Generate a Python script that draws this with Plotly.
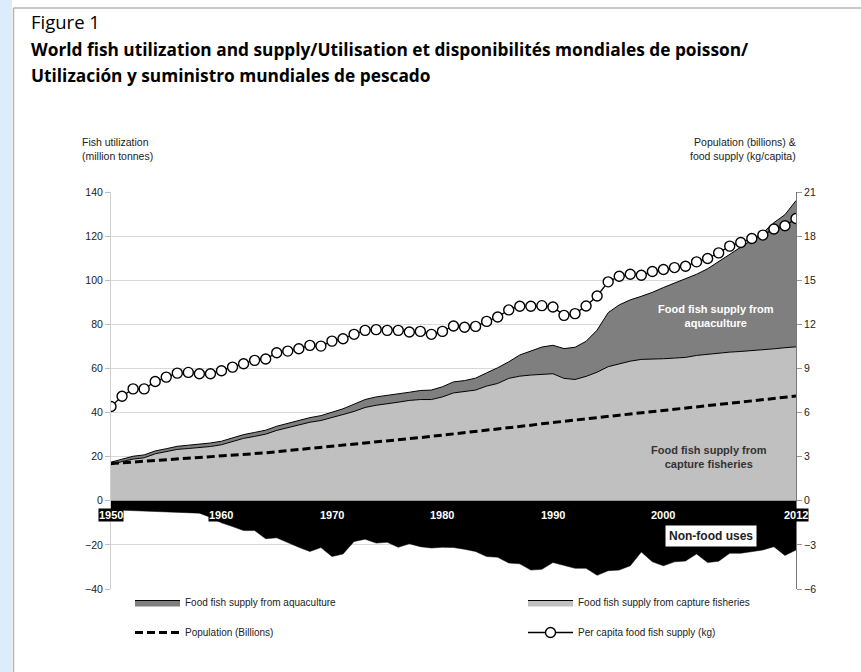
import plotly.graph_objects as go

# ---------------- data ----------------
years = list(range(1950, 2013))

capture = [16.3, 17.8, 18.9, 19.5, 21.3, 22.2, 23.3, 23.7, 24.1, 24.6,
           25.4, 26.8, 28.3, 29.2, 30.2, 31.9, 33.2, 34.4, 35.6, 36.4,
           37.9, 39.1, 40.5, 42.3, 43.3, 43.9, 44.7, 45.5, 45.9, 45.9,
           47.1, 48.9, 49.4, 50.2, 52.0, 53.2, 55.5, 56.5, 57.0, 57.3,
           57.6, 55.5, 55.0, 56.4, 58.3, 60.8, 62.1, 63.3, 64.1, 64.1,
           64.4, 64.7, 65.0, 65.9, 66.4, 67.1, 67.4, 67.7, 68.0, 68.6,
           68.9, 69.4, 69.8]

aquaculture = [1.2, 1.2, 1.3, 1.3, 1.3, 1.4, 1.4, 1.5, 1.5, 1.6,
               1.6, 1.7, 1.7, 1.8, 1.8, 1.9, 2.0, 2.0, 2.1, 2.2,
               2.3, 2.6, 3.3, 3.6, 3.8, 3.8, 3.8, 3.7, 4.1, 4.3,
               4.6, 5.0, 5.1, 5.4, 6.0, 7.1, 7.5, 9.6, 10.9, 12.4,
               12.9, 13.5, 14.6, 15.9, 19.1, 24.5, 26.7, 27.8, 28.6, 30.4,
               32.3, 34.1, 35.9, 36.8, 38.8, 41.4, 44.4, 47.1, 50.2, 52.9,
               57.2, 60.3, 66.3]

non_food = [-4.1, -4.3, -4.4, -4.6, -4.8, -5.0, -5.3, -5.4, -5.6, -7.5,
            -10.0, -11.7, -13.5, -13.5, -17.2, -16.8, -19.0, -21.1, -23.0, -21.2,
            -25.3, -24.1, -18.5, -17.4, -19.2, -18.8, -21.1, -19.5, -20.8, -21.4,
            -21.1, -21.2, -22.0, -23.0, -25.3, -25.6, -28.2, -28.6, -31.4, -31.1,
            -28.0, -29.2, -30.6, -30.6, -33.8, -31.7, -31.4, -29.5, -23.2, -27.7,
            -29.5, -27.7, -27.3, -24.1, -28.0, -27.4, -23.8, -23.8, -23.0, -22.3,
            -20.8, -24.8, -22.3]

population = [2.53, 2.58, 2.63, 2.68, 2.73, 2.77, 2.82, 2.87, 2.93, 2.98,
              3.03, 3.07, 3.12, 3.19, 3.26, 3.34, 3.41, 3.48, 3.55, 3.63,
              3.70, 3.78, 3.85, 3.93, 4.00, 4.08, 4.15, 4.22, 4.30, 4.38,
              4.46, 4.54, 4.62, 4.70, 4.78, 4.87, 4.96, 5.05, 5.14, 5.24,
              5.33, 5.41, 5.50, 5.58, 5.66, 5.74, 5.82, 5.90, 5.98, 6.06,
              6.14, 6.22, 6.30, 6.38, 6.46, 6.54, 6.62, 6.71, 6.79, 6.87,
              6.96, 7.04, 7.12]

per_capita = [6.41, 7.11, 7.61, 7.61, 8.11, 8.41, 8.68, 8.73, 8.64, 8.64,
              8.84, 9.09, 9.32, 9.55, 9.64, 10.07, 10.18, 10.34, 10.57, 10.52,
              10.86, 11.02, 11.32, 11.59, 11.64, 11.59, 11.59, 11.48, 11.52, 11.32,
              11.52, 11.89, 11.80, 11.86, 12.20, 12.50, 12.98, 13.23, 13.23, 13.27,
              13.18, 12.61, 12.73, 13.25, 13.93, 14.89, 15.27, 15.41, 15.34, 15.59,
              15.73, 15.86, 15.95, 16.25, 16.48, 16.86, 17.32, 17.57, 17.84, 18.07,
              18.48, 18.70, 19.20]

year_labels = [1950, 1960, 1970, 1980, 1990, 2000, 2012]
left_ticks = [140, 120, 100, 80, 60, 40, 20, 0, -20, -40]
right_ticks = [21, 18, 15, 12, 9, 6, 3, 0, -3, -6]

# ---------------- layout geometry ----------------
W, H = 861, 672
ML, MR, MT, MB = 111, 65, 192, 83
PW, PH = W - ML - MR, H - MT - MB


def px_x(px):
    return (px - ML) / PW


def px_y(py):
    return (H - MB - py) / PH


FONT = "Arial, Liberation Sans, sans-serif"
TFONT = "Open Sans, sans-serif"

fig = go.Figure()

fig.add_trace(go.Scatter(
    x=years, y=capture, name="Food fish supply from capture fisheries",
    stackgroup="food", mode="lines", line=dict(color="black", width=1),
    fillcolor="#c0c0c0", legend="legend2"))
fig.add_trace(go.Scatter(
    x=years, y=aquaculture, name="Food fish supply from aquaculture",
    stackgroup="food", mode="lines", line=dict(color="black", width=1),
    fillcolor="#7f7f7f", legend="legend"))
fig.add_trace(go.Scatter(
    x=years, y=non_food, name="Non-food uses", mode="lines",
    fill="tozeroy", fillcolor="black", line=dict(color="black", width=0.5),
    showlegend=False))
fig.add_trace(go.Scatter(
    x=years, y=population, name="Population (Billions)", yaxis="y2",
    mode="lines", line=dict(color="black", width=3, dash="8px,4px"),
    legend="legend3"))
fig.add_trace(go.Scatter(
    x=years, y=per_capita, name="Per capita food fish supply (kg)", yaxis="y2",
    mode="lines+markers", line=dict(color="black", width=1.3),
    marker=dict(symbol="circle", size=10, color="white",
                line=dict(color="black", width=1.4)),
    legend="legend4"))

annotations = []
# year labels (white bold on black)
for yr in year_labels:
    annotations.append(dict(
        x=yr, y=-6.5, xref="x", yref="y", text=f"<b>{yr}</b>", showarrow=False,
        font=dict(family=FONT, size=11, color="white"), bgcolor="black",
        borderpad=0, xanchor="center", yanchor="middle"))

annotations += [
    dict(x=2004.3, y=-16.0, xref="x", yref="y", text="<b>Non-food uses</b>",
         showarrow=False, font=dict(family=FONT, size=12, color="#222"),
         bgcolor="white", borderpad=3, xanchor="center", yanchor="middle"),
    dict(x=2004.8, y=83.6, xref="x", yref="y",
         text="<b>Food fish supply from<br>aquaculture</b>", showarrow=False,
         font=dict(family=FONT, size=11, color="white"), xanchor="center",
         yanchor="middle"),
    dict(x=2004.1, y=19.8, xref="x", yref="y",
         text="<b>Food fish supply from<br>capture fisheries</b>", showarrow=False,
         font=dict(family=FONT, size=11, color="#333"), xanchor="center",
         yanchor="middle"),
    dict(x=px_x(80), y=px_y(149), xref="paper", yref="paper",
         text="Fish utilization<br>(million tonnes)", showarrow=False,
         align="left", xanchor="left", yanchor="middle",
         font=dict(family=FONT, size=10.5, color="#222")),
    dict(x=px_x(798), y=px_y(149), xref="paper", yref="paper",
         text="Population (billions) &<br>food supply (kg/capita)", showarrow=False,
         align="right", xanchor="right", yanchor="middle",
         font=dict(family=FONT, size=10.5, color="#222")),
    dict(x=px_x(29), y=px_y(21), xref="paper", yref="paper", text="Figure 1",
         showarrow=False, xanchor="left", yanchor="middle",
         font=dict(family=TFONT, size=18.5, color="black")),
    dict(x=px_x(29), y=px_y(49), xref="paper", yref="paper",
         text="<b>World fish utilization and supply/Utilisation et disponibilités mondiales de poisson/</b>",
         showarrow=False, xanchor="left", yanchor="middle",
         font=dict(family=TFONT, size=17.3, color="black")),
    dict(x=px_x(29), y=px_y(75), xref="paper", yref="paper",
         text="<b>Utilización y suministro mundiales de pescado</b>",
         showarrow=False, xanchor="left", yanchor="middle",
         font=dict(family=TFONT, size=17.3, color="black")),
]

shapes = [
    # light blue strip on the left edge of the page
    dict(type="rect", xref="paper", yref="paper", x0=px_x(0), x1=px_x(12),
         y0=px_y(H), y1=px_y(0), fillcolor="#dcecfc", line=dict(width=0),
         layer="below"),
    # panel border
    dict(type="line", xref="paper", yref="paper", x0=px_x(13.5), x1=px_x(13.5),
         y0=px_y(8), y1=px_y(H), line=dict(color="#b5b5b5", width=1.5)),
    dict(type="line", xref="paper", yref="paper", x0=px_x(13.5), x1=px_x(W),
         y0=px_y(8), y1=px_y(8), line=dict(color="#b5b5b5", width=1.5)),
]


def legend_box(px, py):
    return dict(x=px_x(px), y=px_y(py), xanchor="left", yanchor="top",
                orientation="v", itemwidth=45,
                font=dict(family=FONT, size=10, color="#222"),
                bgcolor="rgba(0,0,0,0)", borderwidth=0)


fig.update_layout(
    width=W, height=H,
    margin=dict(l=ML, r=MR, t=MT, b=MB, pad=0),
    paper_bgcolor="white", plot_bgcolor="white",
    font=dict(family=FONT, size=10.5, color="#222"),
    xaxis=dict(range=[1950, 2012], showticklabels=False, showgrid=False,
               zeroline=False, showline=False, ticks=""),
    yaxis=dict(range=[-40, 140], tickvals=left_ticks, showgrid=True,
               gridcolor="#d9d9d9", gridwidth=1, zeroline=False,
               showline=True, linecolor="#cfcfcf", linewidth=1,
               ticks="outside", ticklen=5, tickcolor="#bbbbbb",
               tickfont=dict(family=FONT, size=10.5, color="#222")),
    yaxis2=dict(range=[-6, 21], tickvals=right_ticks, overlaying="y",
                side="right", showgrid=False, zeroline=False, showline=True,
                linecolor="#777", linewidth=1, ticks="outside", ticklen=5,
                tickcolor="#999",
                tickfont=dict(family=FONT, size=10.5, color="#222")),
    legend=legend_box(130, 588),
    legend2=legend_box(523, 588),
    legend3=legend_box(130, 618),
    legend4=legend_box(523, 618),
    annotations=annotations,
    shapes=shapes,
    showlegend=True,
)

fig.write_html(
    "out.html",
    config={"displayModeBar": False},
    post_script="document.body.style.margin='0';document.body.style.overflow='hidden';",
)
